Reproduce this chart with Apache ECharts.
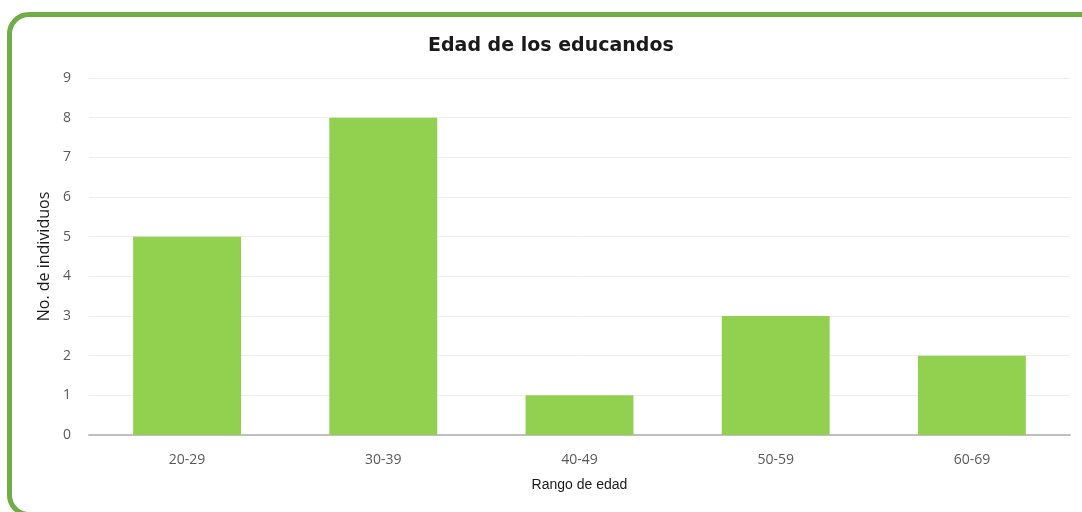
<!DOCTYPE html>
<html>
<head>
<meta charset="utf-8">
<script src="https://cdn.jsdelivr.net/npm/echarts@6/dist/echarts.min.js"></script>
<style>
  html, body { margin: 0; padding: 0; background: #fff; overflow: hidden; }
  #marco {
    position: absolute; left: 7px; top: 12px;
    width: 1100px; height: 505px;
    border: 5px solid #70ad47; border-radius: 22px;
    box-sizing: border-box;
  }
  #box { position: absolute; left: 0; top: 0; width: 1082px; height: 512px; }
</style>
</head>
<body>
<div id="marco"></div>
<div id="box"></div>
<script>
// rangos de edad (eje x)
const categorias = ['20-29', '30-39', '40-49', '50-59', '60-69'];
// número de individuos por rango
const individuos = [5, 8, 1, 3, 2];

var myChart = echarts.init(document.getElementById('box'));

var option = {
  animation: false,
  title: {
    text: 'Edad de los educandos',
    left: 423,
    top: 32,
    textStyle: {
      fontFamily: 'DejaVu Sans',
      fontSize: 19,
      fontWeight: 'bold',
      color: '#1a1a1a'
    }
  },
  grid: { left: 89, right: 12, top: 78, bottom: 77 },
  xAxis: {
    type: 'category',
    data: categorias,
    name: 'Rango de edad',
    nameLocation: 'middle',
    nameGap: 43,
    nameTextStyle: { fontFamily: 'Liberation Sans', fontSize: 14, color: '#1a1a1a' },
    axisLine: { lineStyle: { color: '#bfbfbf', width: 2 } },
    axisTick: { show: false },
    axisLabel: { margin: 18, fontFamily: 'Open Sans', fontSize: 14, color: '#595959' }
  },
  yAxis: {
    type: 'value',
    min: 0,
    max: 9,
    interval: 1,
    name: 'No. de individuos',
    nameLocation: 'middle',
    nameGap: 31,
    nameTextStyle: { fontFamily: 'Open Sans', fontSize: 16, color: '#1a1a1a' },
    axisLine: { show: false },
    axisTick: { show: false },
    axisLabel: { margin: 18, fontFamily: 'Open Sans', fontSize: 14, color: '#595959' },
    splitLine: { lineStyle: { color: '#eeeeee', width: 1 } }
  },
  series: [
    {
      type: 'bar',
      data: individuos,
      barWidth: '55%',
      itemStyle: { color: '#92d050' }
    }
  ]
};

myChart.setOption(option);
</script>
</body>
</html>
